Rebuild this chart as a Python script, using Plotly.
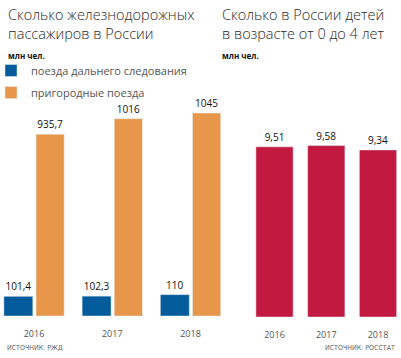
import plotly.graph_objects as go

# ---- data ----
years = ["2016", "2017", "2018"]
long_distance = [101.4, 102.3, 110]
suburban = [935.7, 1016, 1045]
children = [9.51, 9.58, 9.34]

series_names = ["поезда дальнего следования", "пригородные поезда"]
title_left = ["Сколько железнодорожных", "пассажиров в России"]
title_right = ["Сколько в России детей", "в возрасте от 0 до 4 лет"]
unit_label = "млн чел."
source_left = "ИСТОЧНИК: РЖД"
source_right = "ИСТОЧНИК: РОССТАТ"

BLUE = "#035b9b"
ORANGE = "#e8964a"
RED = "#c21941"
W, H = 401, 358


def fmt(v):
    return f"{v:g}".replace(".", ",")


def px(y):
    return 1 - y / H


label_font = dict(family="Open Sans", size=10, color="#111")

fig = go.Figure()
fig.add_trace(go.Bar(
    x=years, y=long_distance, name=series_names[0], marker_color=BLUE,
    width=0.37, offset=-0.385, legendgroup="a",
    text=[fmt(v) for v in long_distance], textposition="outside",
    textfont=label_font, constraintext="none", cliponaxis=False,
    xaxis="x", yaxis="y",
))
fig.add_trace(go.Bar(
    x=years, y=suburban, name=series_names[1], marker_color=ORANGE,
    width=0.36, offset=0.026, legendgroup="b",
    text=[fmt(v) for v in suburban], textposition="outside",
    textfont=label_font, constraintext="none", cliponaxis=False,
    xaxis="x", yaxis="y",
))
fig.add_trace(go.Bar(
    x=years, y=children, name="дети", marker_color=RED, showlegend=False,
    width=0.72,
    text=[fmt(v) for v in children], textposition="outside",
    textfont=label_font, constraintext="none", cliponaxis=False,
    xaxis="x2", yaxis="y2",
))

tick_font = dict(family="Open Sans", size=9, color="#555")
axis_common = dict(showgrid=False, zeroline=False, showline=False,
                   ticks="outside", ticklen=9, tickcolor="rgba(0,0,0,0)",
                   tickfont=tick_font, fixedrange=True)

fig.update_layout(
    width=W, height=H,
    margin=dict(l=0, r=0, t=0, b=0, autoexpand=False),
    paper_bgcolor="white", plot_bgcolor="white",
    barmode="group",
    xaxis=dict(domain=[0, 230 / W], range=[-0.4345, 2.505], type="category", **axis_common),
    yaxis=dict(domain=[px(316), 1], range=[0, 316 * 5.15], visible=False, fixedrange=True),
    xaxis2=dict(domain=[240 / W, 1], range=[-0.667, 2.444], type="category", anchor="y2", **axis_common),
    yaxis2=dict(domain=[px(317), 1], range=[0, 317 * 0.0559], visible=False, fixedrange=True),
    showlegend=True,
    legend=dict(x=-9 / W, y=px(56), xanchor="left", yanchor="top",
                traceorder="grouped", tracegroupgap=3,
                font=dict(family="Open Sans", size=11, color="#555"),
                bgcolor="rgba(0,0,0,0)"),
)

title_font = dict(family="Open Sans", size=14.5, color="#2a2a2a", weight=300)
anns = [
    dict(text="<br>".join(title_left), x=6 / W),
    dict(text="<br>".join(title_right), x=220 / W),
]
for a in anns:
    a.update(xref="paper", yref="paper", y=px(3), xanchor="left", yanchor="top", align="left",
             showarrow=False, font=title_font)
for xpos in (6, 220):
    anns.append(dict(text=f"<b>{unit_label}</b>", x=xpos / W, y=px(55), xref="paper", yref="paper",
                     xanchor="left", yanchor="middle", showarrow=False,
                     font=dict(family="Open Sans", size=8, color="#111")))
src_font = dict(family="DejaVu Sans Condensed, DejaVu Sans", size=7, color="#666")
anns.append(dict(text=source_left, x=5 / W, y=px(348), xref="paper", yref="paper",
                 xanchor="left", yanchor="middle", showarrow=False, font=src_font))
anns.append(dict(text=source_right, x=397 / W, y=px(348), xref="paper", yref="paper",
                 xanchor="right", yanchor="middle", showarrow=False, font=src_font))
fig.update_layout(annotations=anns)

fig.write_html("out.html", config={"displayModeBar": False},
               post_script="document.body.style.margin='0';")
